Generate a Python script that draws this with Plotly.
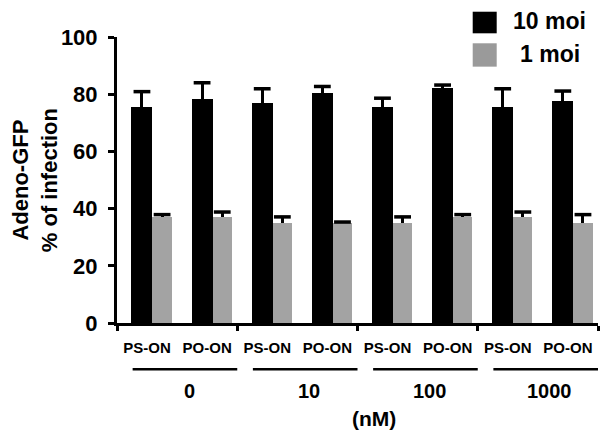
import plotly.graph_objects as go

# ---- data ----
categories = ["PS-ON", "PO-ON", "PS-ON", "PO-ON", "PS-ON", "PO-ON", "PS-ON", "PO-ON"]
groups = ["0", "10", "100", "1000"]
moi10 = [75.4, 78.4, 76.8, 80.3, 75.4, 82.0, 75.4, 77.7]
moi10_err = [5.5, 5.6, 5.1, 2.4, 3.2, 1.2, 6.5, 3.4]
moi1 = [37.2, 37.2, 35.1, 35.1, 35.1, 37.2, 37.2, 35.1]
moi1_err = [0.7, 1.6, 2.0, 0.2, 2.0, 0.7, 1.6, 2.8]
series_names = ["10 moi", "1 moi"]
y_ticks = [0, 20, 40, 60, 80, 100]

FONT = "Liberation Sans, Arial, sans-serif"
BLACK = "#000000"
GRAY = "#a3a3a3"
GRAY_SW = "#9a9a9a"


def bfont(size):
    return dict(family=FONT, size=size, color=BLACK, weight="bold")


xpos = list(range(len(categories)))
w_black, off_black = 0.35, -0.26
w_gray, off_gray = 0.32, 0.09

fig = go.Figure()
for vals, errs, color, off, w, name in [
    (moi10, moi10_err, BLACK, off_black, w_black, series_names[0]),
    (moi1, moi1_err, GRAY, off_gray, w_gray, series_names[1]),
]:
    fig.add_trace(go.Bar(
        x=xpos, y=vals, name=name, marker=dict(color=color, line=dict(width=0)),
        offset=off, width=w, showlegend=False,
        error_y=dict(type="data", symmetric=False, array=errs, arrayminus=[0] * len(errs),
                     color=BLACK, thickness=3, width=0),
    ))
    fig.add_trace(go.Scatter(
        x=[p + off + w / 2 for p in xpos], y=[v + e for v, e in zip(vals, errs)],
        mode="markers", showlegend=False, hoverinfo="skip",
        marker=dict(symbol="line-ew", size=12, line=dict(width=3.5, color=BLACK)),
    ))

# group underlines and labels
shapes = []
annotations = []
bounds = [-0.5 + 2 * g for g in range(len(groups))]
for b, g in zip(bounds, groups):
    shapes.append(dict(type="line", xref="x", yref="paper", x0=b + 0.26, x1=b + 2.0,
                       y0=-0.162, y1=-0.162, line=dict(color=BLACK, width=2.5)))
    annotations.append(dict(text=g, xref="x", yref="paper", x=b + 1.2, y=-0.239,
                            showarrow=False, xanchor="center", yanchor="middle",
                            font=bfont(20)))
annotations.append(dict(text="(nM)", xref="x", yref="paper", x=3.77, y=-0.335,
                        showarrow=False, xanchor="center", yanchor="middle",
                        font=bfont(21)))
annotations.append(dict(text="Adeno-GFP<br>% of infection", xref="paper", yref="paper",
                        x=-0.17, y=0.5, textangle=-90, showarrow=False,
                        xanchor="center", yanchor="middle",
                        font=bfont(22)))

# manual legend
for (y0, y1, col, ty, name) in [(1.0129, 1.0884, BLACK, 1.0566, series_names[0]),
                                (0.8963, 0.978, GRAY_SW, 0.9406, series_names[1])]:
    shapes.append(dict(type="rect", xref="paper", yref="paper", x0=0.7395, x1=0.7894,
                       y0=y0, y1=y1, fillcolor=col, line=dict(width=0)))
    annotations.append(dict(text=name, xref="paper", yref="paper", x=0.9, y=ty,
                            showarrow=False, xanchor="center", yanchor="middle",
                            font=bfont(23)))

fig.update_layout(
    width=600, height=438,
    margin=dict(l=117, r=2, t=37, b=115),
    paper_bgcolor="white", plot_bgcolor="white",
    bargap=0, showlegend=False,
    shapes=shapes, annotations=annotations,
    font=dict(family=FONT, color=BLACK),
)
fig.update_xaxes(
    range=[-0.5, 7.5], tickvals=xpos, ticktext=categories, ticks="",
    tickfont=bfont(15), ticklabelstandoff=9,
    showline=True, linewidth=3, linecolor=BLACK, showgrid=False, zeroline=False,
    minor=dict(tick0=-0.5, dtick=2, ticks="outside", ticklen=5, tickwidth=3, tickcolor=BLACK,
               showgrid=False),
)
fig.update_yaxes(
    range=[0, 100], tickvals=y_ticks, ticks="outside", ticklen=6, tickwidth=3, tickcolor=BLACK,
    tickfont=bfont(22), ticklabelstandoff=6,
    showline=True, linewidth=3, linecolor=BLACK, showgrid=False, zeroline=False,
)

fig.write_html("out.html")
